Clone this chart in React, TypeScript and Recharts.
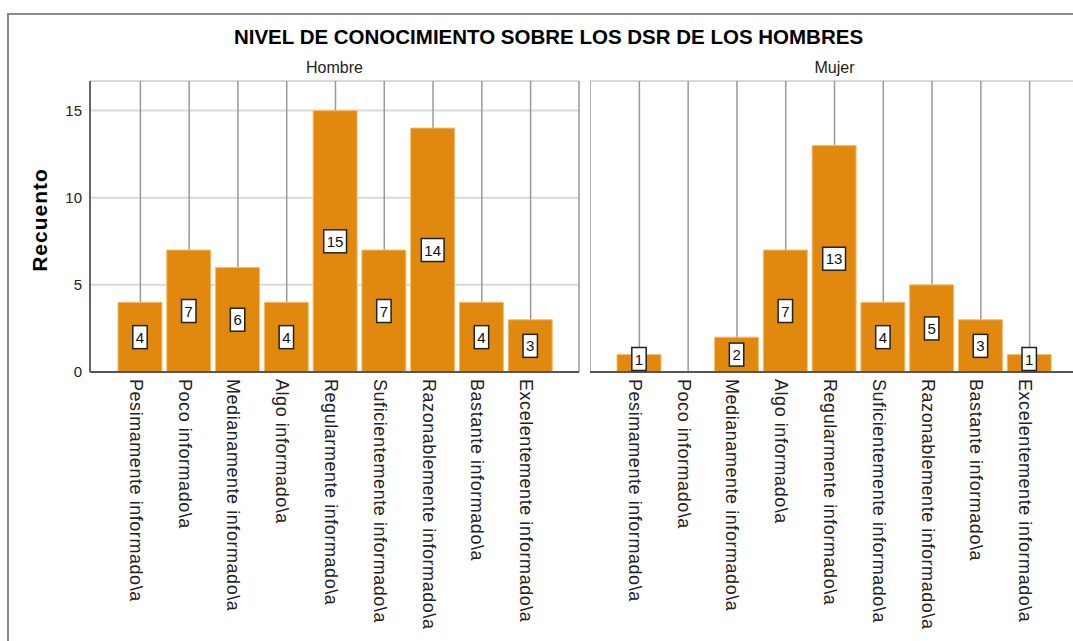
import React from "react";
import { BarChart, Bar, XAxis, YAxis, CartesianGrid, LabelList } from "recharts";

const categories = [
  "Pesimamente informado\\a",
  "Poco informado\\a",
  "Medianamente informado\\a",
  "Algo informado\\a",
  "Regularmente informado\\a",
  "Suficientemente informado\\a",
  "Razonablemente informado\\a",
  "Bastante informado\\a",
  "Excelentemente informado\\a",
];
const hombreValues = [4, 7, 6, 4, 15, 7, 14, 4, 3];
const mujerValues = [1, 0, 2, 7, 13, 4, 5, 3, 1];
const yTicks = [0, 5, 10, 15];
const panelNames = ["Hombre", "Mujer"];
const chartTitle = "NIVEL DE CONOCIMIENTO SOBRE LOS DSR DE LOS HOMBRES";
const yLabel = "Recuento";

const FONT = "'Liberation Sans', Arial, sans-serif";
const BAR_FILL = "#E1890F";
const Y_DOMAIN: [number, number] = [0, 16.7];

const hombreData = categories.map((name, i) => ({ name, value: hombreValues[i] }));
const mujerData = categories.map((name, i) => ({ name, value: mujerValues[i] }));

const XTick = (props: any) => {
  const { x, y, payload } = props;
  return (
    <g transform={`translate(${x},${y})`}>
      <text
        transform="rotate(90)"
        x={7}
        y={10.5}
        textAnchor="start"
        fontSize={18}
        letterSpacing={0.55}
        fontFamily={FONT}
        fill="#222"
      >
        {payload.value}
      </text>
    </g>
  );
};

const renderLabel = (props: any) => {
  const { x, y, width, height, value } = props;
  if (!value) return null;
  const cx = Number(x) + Number(width) / 2;
  const s = String(value);
  const bw = s.length * 8.4 + 6;
  const bh = 23;
  const bottom = Number(y) + Number(height);
  let by = Number(y) + Number(height) / 2 - bh / 2;
  if (by + bh > bottom - 1.5) by = bottom - 1.5 - bh;
  return (
    <g>
      <rect x={cx - bw / 2} y={by} width={bw} height={bh} fill="#fff" stroke="#222" strokeWidth={1.5} />
      <text
        x={cx}
        y={by + bh / 2 + 5.5}
        textAnchor="middle"
        fontSize={15}
        fontFamily={FONT}
        fill="#111"
      >
        {s}
      </text>
    </g>
  );
};

const Panel = ({ data, showY, width, padL, padR, marginRight }: any) => (
  <BarChart
    width={width}
    height={641}
    data={data}
    margin={{ top: 81, right: marginRight, bottom: 0, left: 0 }}
    barSize={44}
  >
    <CartesianGrid horizontal={true} vertical={false} stroke="#d9d9d9" strokeWidth={2} />
    <CartesianGrid horizontal={false} vertical={true} stroke="#999" strokeWidth={1.5} />
    <XAxis
      dataKey="name"
      type="category"
      interval={0}
      tick={<XTick />}
      tickLine={false}
      tickSize={0}
      tickMargin={0}
      height={269}
      padding={{ left: padL, right: padR }}
      axisLine={{ stroke: "#555", strokeWidth: 2 }}
    />
    <XAxis
      xAxisId="top"
      dataKey="name"
      orientation="top"
      height={0}
      tick={false}
      tickLine={false}
      axisLine={{ stroke: "#666", strokeWidth: 2 }}
    />
    <YAxis
      domain={Y_DOMAIN}
      ticks={yTicks}
      width={showY ? 90 : 0}
      tick={showY ? { fontSize: 15, fill: "#222", fontFamily: FONT } : false}
      tickLine={false}
      axisLine={{ stroke: "#666", strokeWidth: 2 }}
      allowDataOverflow
    />
    <YAxis
      yAxisId="r"
      orientation="right"
      domain={Y_DOMAIN}
      width={0}
      tick={false}
      tickLine={false}
      axisLine={{ stroke: "#666", strokeWidth: 2 }}
    />
    <Bar dataKey="value" fill={BAR_FILL} stroke="#F2BE72" strokeWidth={1} isAnimationActive={false}>
      <LabelList dataKey="value" content={renderLabel} />
    </Bar>
  </BarChart>
);

export default function App() {
  return (
    <div
      style={{
        position: "absolute",
        left: 0,
        top: 0,
        width: 1073,
        height: 641,
        overflow: "hidden",
        background: "#fff",
        fontFamily: FONT,
      }}
    >
      <div
        style={{
          position: "absolute",
          left: 7,
          top: 13,
          width: 1200,
          height: 800,
          borderTop: "2px solid #8a8a8a",
          borderLeft: "2px solid #8a8a8a",
        }}
      />
      <svg width={1073} height={641} style={{ position: "absolute", left: 0, top: 0 }}>
        <text x={548.5} y={43.5} textAnchor="middle" fontSize={20.5} fontWeight="bold" fontFamily={FONT} fill="#000">
          {chartTitle}
        </text>
        <text x={334.5} y={72.5} textAnchor="middle" fontSize={16} fontFamily={FONT} fill="#222">
          {panelNames[0]}
        </text>
        <text x={834.5} y={72.5} textAnchor="middle" fontSize={16} fontFamily={FONT} fill="#222">
          {panelNames[1]}
        </text>
        <text
          transform="translate(47,220) rotate(-90)"
          textAnchor="middle"
          fontSize={21}
          letterSpacing={1}
          fontWeight="bold"
          fontFamily={FONT}
          fill="#000"
        >
          {yLabel}
        </text>
      </svg>
      <div style={{ position: "absolute", left: 0, top: 0 }}>
        <Panel data={hombreData} showY width={590} padL={26} padR={24} marginRight={11} />
      </div>
      <div style={{ position: "absolute", left: 590, top: 0 }}>
        <Panel data={mujerData} showY={false} width={490} padL={25} padR={25} marginRight={1} />
      </div>
    </div>
  );
}
